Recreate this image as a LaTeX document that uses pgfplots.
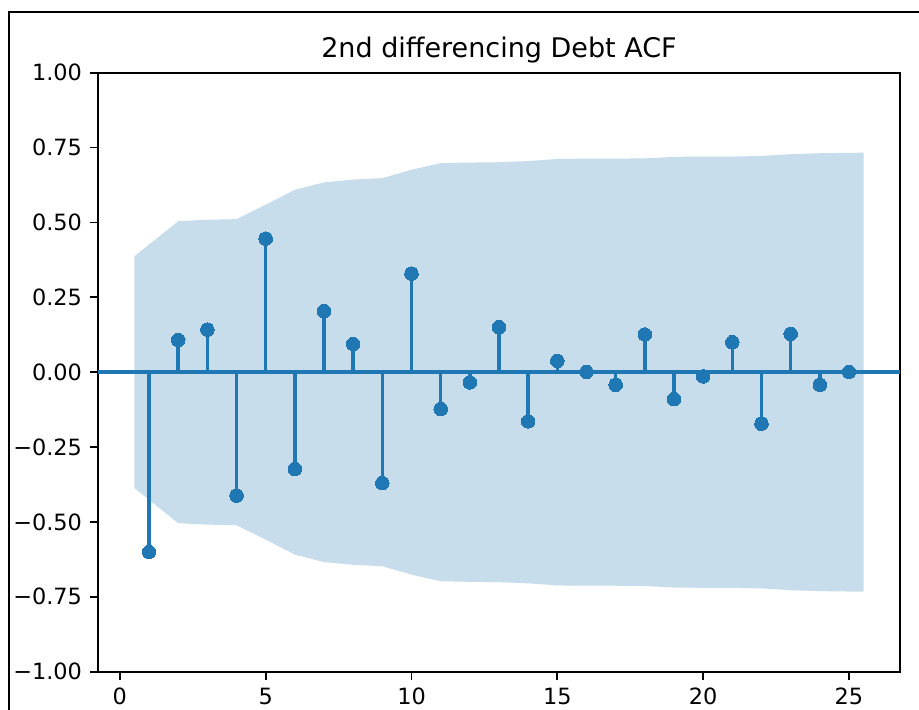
\documentclass[border=0pt]{standalone}
\usepackage{pgfplots}
\pgfplotsset{compat=1.18}
\usepackage{fontspec}
\setmainfont{DejaVu Sans}
\definecolor{cz}{RGB}{31,119,180}
\definecolor{band}{RGB}{199,221,236}
\begin{document}
\begin{tikzpicture}
\begin{axis}[
  at={(0,0)}, anchor=south west,
  scale only axis, width=401pt, height=299.5pt,
  xmin=-0.75, xmax=26.75, ymin=-1, ymax=1,
  xtick={0,5,10,15,20,25},
  ytick={-1,-0.75,-0.5,-0.25,0,0.25,0.5,0.75,1},
  yticklabels={−1.00,−0.75,−0.50,−0.25,0.00,0.25,0.50,0.75,1.00},
  xtick pos=bottom, ytick pos=left, tick align=outside,
  major tick length=3.93pt,
  axis line style={line width=0.9pt},
  every tick/.style={black, line width=0.9pt},
  tick label style={font=\fontsize{11.2}{13}\selectfont},
  yticklabel style={anchor=east, inner sep=0pt, xshift=-3.9pt},
  xticklabel style={anchor=north, inner sep=0pt, yshift=-3.9pt},
  title={2nd differencing Debt ACF},
  title style={font=\fontsize{13.5}{16}\selectfont, anchor=base, at={(0.5,1)}, yshift=1.5pt, inner sep=0pt},
  /pgf/number format/assume math mode=true,
]
\addplot[fill=band, draw=none] coordinates {
 (0.5,0.387)(2,0.504)(3,0.509)(4,0.511)(5,0.559)(6,0.609)(7,0.634)(8,0.643)(9,0.648)(10,0.676)
 (11,0.698)(12,0.700)(13,0.701)(14,0.705)(15,0.712)(16,0.713)(17,0.713)(18,0.714)(19,0.719)(20,0.720)
 (21,0.720)(22,0.722)(23,0.728)(24,0.731)(25.5,0.733)
 (25.5,-0.733)(24,-0.731)(23,-0.728)(22,-0.722)(21,-0.720)(20,-0.720)(19,-0.719)(18,-0.714)(17,-0.713)(16,-0.713)
 (15,-0.712)(14,-0.705)(13,-0.701)(12,-0.700)(11,-0.698)(10,-0.676)(9,-0.648)(8,-0.643)(7,-0.634)(6,-0.609)
 (5,-0.559)(4,-0.511)(3,-0.509)(2,-0.504)(0.5,-0.387)
} -- cycle;
\addplot[cz, line width=1.75pt, mark=none] coordinates {(-0.75,0)(26.75,0)};
\addplot[cz, ycomb, line width=1.75pt, mark=*, mark size=3.4pt, mark options={fill=cz, draw=cz, line width=0pt}] table {
x y
1 -0.600
2 0.108
3 0.142
4 -0.412
5 0.446
6 -0.323
7 0.204
8 0.094
9 -0.370
10 0.329
11 -0.123
12 -0.034
13 0.150
14 -0.164
15 0.038
16 0.001
17 -0.042
18 0.126
19 -0.090
20 -0.014
21 0.100
22 -0.172
23 0.128
24 -0.042
25 0.001
};
\end{axis}
\draw[line width=1.1pt] (-44.5pt,-30pt) rectangle (425pt,330pt);
\pgfresetboundingbox
\useasboundingbox (-49pt,-19.15pt) rectangle (410.5pt,335.85pt);
\end{tikzpicture}
\end{document}
